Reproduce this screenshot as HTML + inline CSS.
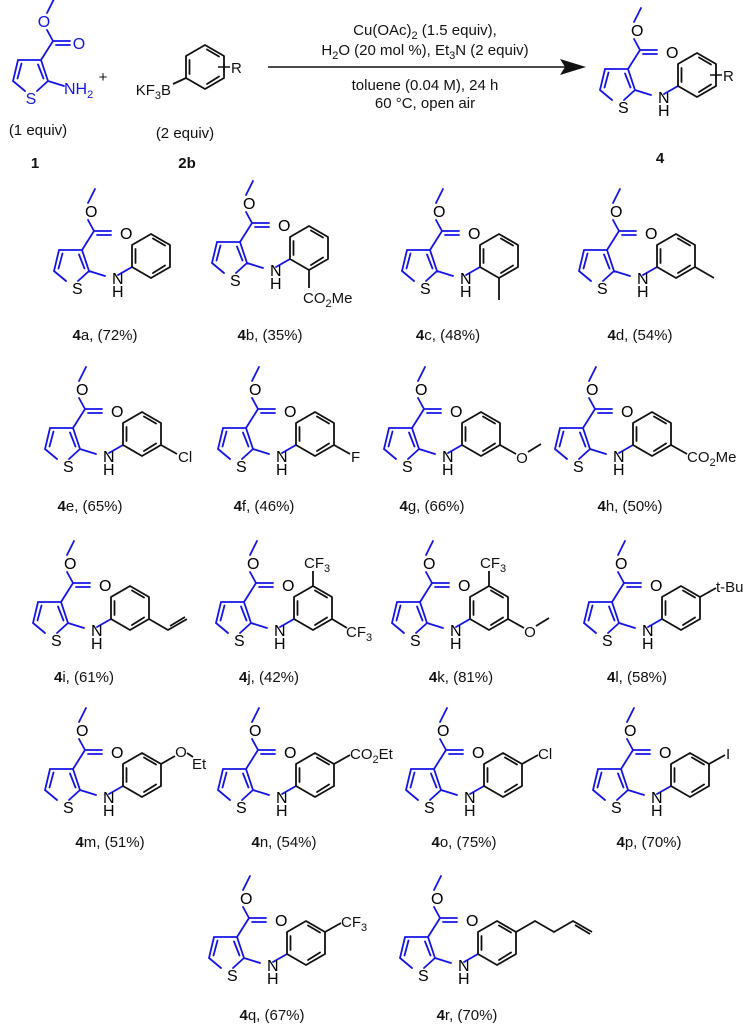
<!DOCTYPE html>
<html><head><meta charset="utf-8">
<style>
html,body{margin:0;padding:0;background:#fff;}
svg{display:block;}
text{font-family:"Liberation Sans",Arial,sans-serif;}
.b text{fill:#1414e6;font-size:16px;text-anchor:middle;}
.k{fill:#111;font-size:15px;}
.lab{fill:#111;font-size:15px;text-anchor:middle;}
.rg{fill:#111;font-size:15px;text-anchor:middle;}
</style></head>
<body>
<svg width="751" height="1030" viewBox="0 0 751 1030" xmlns="http://www.w3.org/2000/svg">
<defs>
<path id="core" stroke="#1414e6" stroke-width="1.8" fill="none" stroke-linecap="round" d="M-30,-28 L-23,-7 M-23,-7 L-34,3 M-46,3 L-58,-7 L-53,-28 L-30,-28 M-49.5,-24.5 L-53.5,-9.5 M-33,-23.5 L-27.5,-9.5 M-30,-28 L-18,-47 L-1,-47 M-15,-43 L-1,-43 M-18,-47 L-24,-58 M-24,-75 L-17,-89 M-23,-7 L-7,-2"/>
<path id="link" stroke="#1414e6" stroke-width="1.8" fill="none" stroke-linecap="round" d="M6,-3 L20,-11"/>
<path id="ring" stroke="#111" stroke-width="1.8" fill="none" stroke-linejoin="round" stroke-linecap="round" d="M20,-11 L20,-33 L39,-44 L58,-33 L58,-11 L39,0 Z M23.5,-15 L23.5,-29 M41,-39.5 L53,-32.5 M53,-12.5 L41,-5"/>
<g id="ctext">
<text x="-27" y="-61">O</text><text x="8" y="-39">O</text><text x="-40" y="16">S</text><text x="0" y="6">N</text><text x="0" y="19">H</text>
</g>
</defs>

<!-- compound 1 -->
<g transform="translate(71,88)">
<use href="#core"/>
<g class="b"><text x="-27" y="-61">O</text><text x="8" y="-39">O</text><text x="-40" y="16">S</text><text x="-7" y="6" style="text-anchor:start">NH<tspan font-size="11" dy="4">2</tspan></text></g>
</g>
<text x="103" y="82" class="k" style="text-anchor:middle">+</text>
<text x="38" y="135" class="lab">(1 equiv)</text>
<text x="35" y="168" class="lab" font-weight="bold">1</text>

<!-- 2b -->
<g transform="translate(166,89)">
<use href="#ring"/>
<path d="M52,-22 L64,-22 M58,-26 L58,-18" stroke="#111" stroke-width="1.6"/>
<text x="65" y="-16" class="k">R</text>
</g>
<path d="M173,84 L186,78" stroke="#111" stroke-width="1.8"/>
<text x="171" y="95" class="k" style="text-anchor:end">KF<tspan font-size="11" dy="4">3</tspan><tspan dy="-4">B</tspan></text>
<text x="185" y="138" class="lab">(2 equiv)</text>
<text x="187" y="168" class="lab" font-weight="bold">2b</text>

<!-- arrow & conditions -->
<path d="M268,67 L566,67" stroke="#111" stroke-width="1.6"/>
<path d="M586,67 L560,59 L565,67 L560,75 Z" fill="#111"/>
<g class="rg">
<text x="425" y="35">Cu(OAc)<tspan font-size="11" dy="4">2</tspan><tspan dy="-4"> (1.5 equiv),</tspan></text>
<text x="425" y="55">H<tspan font-size="11" dy="4">2</tspan><tspan dy="-4">O (20 mol %), Et</tspan><tspan font-size="11" dy="4">3</tspan><tspan dy="-4">N (2 equiv)</tspan></text>
<text x="425" y="90">toluene (0.04 M), 24 h</text>
<text x="425" y="108">60 °C, open air</text>
</g>

<!-- product 4 -->
<g transform="translate(658,97)">
<use href="#core"/><use href="#link"/><use href="#ring"/>
<g class="b"><use href="#ctext"/></g>
<path d="M52,-22 L64,-22 M58,-26 L58,-18" stroke="#111" stroke-width="1.6"/>
<text x="65" y="-16" class="k">R</text>
</g>
<text x="660" y="163" class="lab" font-weight="bold">4</text>

<!-- Row 1 -->
<g transform="translate(112,278)"><use href="#core"/><use href="#link"/><use href="#ring"/><g class="b"><use href="#ctext"/></g></g>
<text x="105" y="340" class="lab"><tspan font-weight="bold">4</tspan>a, (72%)</text>

<g transform="translate(270,270)"><use href="#core"/><use href="#link"/><use href="#ring"/><g class="b"><use href="#ctext"/></g>
<path d="M39,0 L39,18" stroke="#111" stroke-width="1.8"/>
<text x="33" y="33" class="k">CO<tspan font-size="11" dy="4">2</tspan><tspan dy="-4">Me</tspan></text></g>
<text x="270" y="340" class="lab"><tspan font-weight="bold">4</tspan>b, (35%)</text>

<g transform="translate(460,278)"><use href="#core"/><use href="#link"/><use href="#ring"/><g class="b"><use href="#ctext"/></g>
<path d="M39,0 L39,22" stroke="#111" stroke-width="1.8"/></g>
<text x="448" y="340" class="lab"><tspan font-weight="bold">4</tspan>c, (48%)</text>

<g transform="translate(637,278)"><use href="#core"/><use href="#link"/><use href="#ring"/><g class="b"><use href="#ctext"/></g>
<path d="M58,-11 L77,0" stroke="#111" stroke-width="1.8"/></g>
<text x="640" y="340" class="lab"><tspan font-weight="bold">4</tspan>d, (54%)</text>

<!-- Row 2 -->
<g transform="translate(103,456)"><use href="#core"/><use href="#link"/><use href="#ring"/><g class="b"><use href="#ctext"/></g>
<path d="M58,-11 L74,-2" stroke="#111" stroke-width="1.8"/><text x="75" y="6" class="k">Cl</text></g>
<text x="90" y="511" class="lab"><tspan font-weight="bold">4</tspan>e, (65%)</text>

<g transform="translate(276,456)"><use href="#core"/><use href="#link"/><use href="#ring"/><g class="b"><use href="#ctext"/></g>
<path d="M58,-11 L74,-2" stroke="#111" stroke-width="1.8"/><text x="75" y="6" class="k">F</text></g>
<text x="264" y="511" class="lab"><tspan font-weight="bold">4</tspan>f, (46%)</text>

<g transform="translate(442,456)"><use href="#core"/><use href="#link"/><use href="#ring"/><g class="b"><use href="#ctext"/></g>
<path d="M58,-11 L74,-2 M86,-4 L99,-12" stroke="#111" stroke-width="1.8"/><text x="80" y="7" class="k" style="text-anchor:middle">O</text></g>
<text x="432" y="511" class="lab"><tspan font-weight="bold">4</tspan>g, (66%)</text>

<g transform="translate(613,456)"><use href="#core"/><use href="#link"/><use href="#ring"/><g class="b"><use href="#ctext"/></g>
<path d="M58,-11 L74,-2" stroke="#111" stroke-width="1.8"/><text x="74" y="6" class="k">CO<tspan font-size="11" dy="4">2</tspan><tspan dy="-4">Me</tspan></text></g>
<text x="630" y="511" class="lab"><tspan font-weight="bold">4</tspan>h, (50%)</text>

<!-- Row 3 -->
<g transform="translate(91,630)"><use href="#core"/><use href="#link"/><use href="#ring"/><g class="b"><use href="#ctext"/></g>
<path d="M58,-11 L77,0 L96,-11 M79,-4 L94,-13" stroke="#111" stroke-width="1.8" fill="none"/></g>
<text x="84" y="682" class="lab"><tspan font-weight="bold">4</tspan>i, (61%)</text>

<g transform="translate(274,630)"><use href="#core"/><use href="#link"/><use href="#ring"/><g class="b"><use href="#ctext"/></g>
<path d="M39,-44 L39,-59 M58,-11 L73,-2" stroke="#111" stroke-width="1.8"/>
<text x="30" y="-62" class="k">CF<tspan font-size="11" dy="4">3</tspan></text>
<text x="72" y="7" class="k">CF<tspan font-size="11" dy="4">3</tspan></text></g>
<text x="269" y="682" class="lab"><tspan font-weight="bold">4</tspan>j, (42%)</text>

<g transform="translate(450,630)"><use href="#core"/><use href="#link"/><use href="#ring"/><g class="b"><use href="#ctext"/></g>
<path d="M39,-44 L39,-59 M58,-11 L74,-2 M86,-4 L99,-12" stroke="#111" stroke-width="1.8"/>
<text x="30" y="-62" class="k">CF<tspan font-size="11" dy="4">3</tspan></text>
<text x="80" y="7" class="k" style="text-anchor:middle">O</text></g>
<text x="461" y="682" class="lab"><tspan font-weight="bold">4</tspan>k, (81%)</text>

<g transform="translate(642,630)"><use href="#core"/><use href="#link"/><use href="#ring"/><g class="b"><use href="#ctext"/></g>
<path d="M58,-33 L74,-42" stroke="#111" stroke-width="1.8"/><text x="74" y="-38" class="k">t-Bu</text></g>
<text x="637" y="682" class="lab"><tspan font-weight="bold">4</tspan>l, (58%)</text>

<!-- Row 4 -->
<g transform="translate(103,797)"><use href="#core"/><use href="#link"/><use href="#ring"/><g class="b"><use href="#ctext"/></g>
<path d="M58,-33 L72,-41 M84,-44 L90,-40" stroke="#111" stroke-width="1.8"/>
<text x="78" y="-40" class="k" style="text-anchor:middle">O</text><text x="89" y="-28" class="k">Et</text></g>
<text x="110" y="847" class="lab"><tspan font-weight="bold">4</tspan>m, (51%)</text>

<g transform="translate(276,797)"><use href="#core"/><use href="#link"/><use href="#ring"/><g class="b"><use href="#ctext"/></g>
<path d="M58,-33 L74,-42" stroke="#111" stroke-width="1.8"/><text x="74" y="-38" class="k">CO<tspan font-size="11" dy="4">2</tspan><tspan dy="-4">Et</tspan></text></g>
<text x="284" y="847" class="lab"><tspan font-weight="bold">4</tspan>n, (54%)</text>

<g transform="translate(464,797)"><use href="#core"/><use href="#link"/><use href="#ring"/><g class="b"><use href="#ctext"/></g>
<path d="M58,-33 L74,-42" stroke="#111" stroke-width="1.8"/><text x="74" y="-38" class="k">Cl</text></g>
<text x="464" y="847" class="lab"><tspan font-weight="bold">4</tspan>o, (75%)</text>

<g transform="translate(651,797)"><use href="#core"/><use href="#link"/><use href="#ring"/><g class="b"><use href="#ctext"/></g>
<path d="M58,-33 L74,-42" stroke="#111" stroke-width="1.8"/><text x="75" y="-38" class="k">I</text></g>
<text x="649" y="847" class="lab"><tspan font-weight="bold">4</tspan>p, (70%)</text>

<!-- Row 5 -->
<g transform="translate(267,965)"><use href="#core"/><use href="#link"/><use href="#ring"/><g class="b"><use href="#ctext"/></g>
<path d="M58,-33 L74,-42" stroke="#111" stroke-width="1.8"/><text x="74" y="-38" class="k">CF<tspan font-size="11" dy="4">3</tspan></text></g>
<text x="272" y="1020" class="lab"><tspan font-weight="bold">4</tspan>q, (67%)</text>

<g transform="translate(458,965)"><use href="#core"/><use href="#link"/><use href="#ring"/><g class="b"><use href="#ctext"/></g>
<path d="M58,-33 L77,-44 L96,-33 L115,-44 L134,-33 M117,-40 L132,-31" stroke="#111" stroke-width="1.8" fill="none"/></g>
<text x="467" y="1020" class="lab"><tspan font-weight="bold">4</tspan>r, (70%)</text>
</svg>
</body></html>
